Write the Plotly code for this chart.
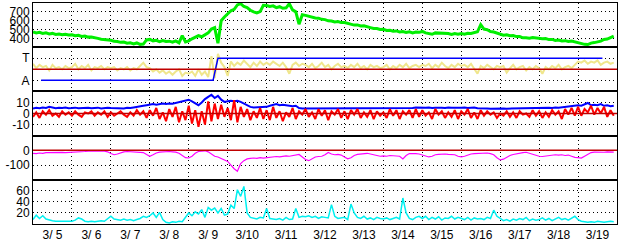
import pandas as pd
import plotly.graph_objects as go
from plotly.subplots import make_subplots

START = "2012-03-05 00:00"
END = "2012-03-20 00:00"

# 2-hourly samples, 12 per day, 3/5 .. 3/19
speed = [
    472, 462, 468, 455, 462, 450, 456, 445, 450, 440, 447, 438,   # 3/5
    440, 430, 434, 422, 426, 414, 416, 404, 400, 390, 388, 378,   # 3/6
    378, 366, 365, 355, 358, 345, 350, 338, 348, 332, 335, 382,   # 3/7
    388, 372, 378, 362, 376, 364, 368, 356, 372, 350, 430, 360,   # 3/8
    372, 395, 408, 430, 418, 442, 462, 505, 522, 345, 600, 642,   # 3/9
    680, 712, 728, 778, 792, 760, 748, 718, 700, 688, 702, 775,   # 3/10
    772, 762, 768, 748, 758, 740, 745, 792, 722, 700, 560, 668,   # 3/11
    660, 648, 642, 630, 628, 615, 612, 598, 596, 585, 590, 578,   # 3/12
    578, 566, 562, 550, 552, 540, 542, 528, 522, 512, 512, 500,   # 3/13
    502, 490, 492, 480, 484, 472, 478, 466, 474, 462, 472, 468,   # 3/14
    478, 462, 458, 446, 462, 460, 460, 450, 454, 444, 454, 446,   # 3/15
    454, 446, 458, 456, 468, 474, 555, 505, 498, 478, 472, 458,   # 3/16
    448, 436, 440, 430, 432, 420, 420, 406, 408, 402, 410, 404,   # 3/17
    406, 396, 398, 386, 388, 376, 380, 370, 374, 364, 370, 360,   # 3/18
    356, 338, 332, 330, 346, 352, 362, 368, 388, 392, 408, 425,   # 3/19
]

# IMF direction (T = +0.5, A = -0.5)
phi = [
    0.25, 0.05, 0.20, 0.10, 0.15, -0.05, 0.20, 0.05, 0.10, 0.00, 0.15, 0.05,
    0.10, 0.25, 0.00, 0.15, 0.05, 0.20, -0.05, 0.10, 0.05, 0.15, 0.00, 0.10,
    0.05, 0.10, -0.05, 0.05, 0.00, 0.10, -0.05, 0.05, 0.00, 0.15, 0.30, 0.10,
    0.05, -0.10, 0.00, -0.15, -0.05, -0.20, -0.10, -0.25, -0.10, 0.00, -0.30, -0.15,
    -0.20, -0.10, -0.30, 0.00, -0.25, -0.10, -0.35, 0.60, -0.40, 0.70, 0.30, 0.10,
    -0.30, 0.35, 0.15, 0.30, 0.20, 0.40, 0.25, 0.10, 0.30, 0.15, 0.35, 0.20,
    0.30, 0.20, 0.35, 0.25, 0.15, 0.30, 0.10, -0.20, 0.20, 0.30, 0.15, 0.25,
    0.20, 0.10, 0.25, 0.05, 0.15, 0.30, 0.10, 0.20, 0.00, 0.15, 0.25, 0.10,
    0.15, 0.05, 0.20, 0.10, 0.25, 0.05, 0.15, 0.00, 0.20, 0.10, 0.15, 0.05,
    0.10, 0.20, 0.00, 0.15, 0.05, 0.20, 0.10, 0.25, 0.05, 0.15, 0.20, 0.10,
    0.20, 0.15, 0.25, 0.05, 0.20, 0.10, 0.30, 0.15, 0.05, 0.20, 0.10, 0.25,
    0.15, 0.20, 0.10, 0.25, 0.00, -0.20, 0.15, 0.05, 0.20, 0.10, 0.00, 0.15,
    0.10, 0.15, -0.15, 0.05, 0.20, 0.00, 0.10, 0.15, -0.05, 0.10, 0.00, 0.15,
    0.05, -0.20, 0.10, 0.00, 0.15, 0.05, 0.20, 0.00, 0.10, 0.15, 0.05, 0.20,
    0.35, 0.30, 0.40, 0.25, 0.35, 0.30, 0.40, 0.20, 0.30, 0.35, 0.25, 0.30,
]

sector_time = ["2012-03-05 05:00", "2012-03-09 15:00", "2012-03-09 18:00", "2012-03-19 15:00"]
sector_val = [-0.5, -0.5, 0.5, 0.5]

bt = [
    4.5, 5.2, 4.8, 5.5, 5.0, 6.0, 5.5, 4.8, 5.2, 5.0, 5.5, 4.8,
    5.0, 5.3, 4.7, 5.0, 5.5, 5.2, 4.8, 5.0, 5.3, 4.6, 5.0, 5.2,
    5.0, 4.8, 5.2, 5.0, 4.6, 5.2, 5.0, 5.5, 5.8, 6.5, 7.0, 7.5,
    8.0, 8.5, 8.0, 8.8, 9.0, 8.5, 9.0, 8.8, 9.5, 10.0, 10.5, 11.5,
    12.5, 11.0, 9.0, 7.5, 10.0, 13.0, 15.0, 17.0, 14.0, 16.0, 12.5, 10.5,
    11.0, 11.5, 11.0, 11.5, 10.5, 9.0, 7.5, 6.0, 5.5, 5.5, 6.0, 5.5,
    6.0, 7.0, 8.0, 8.5, 7.5, 8.0, 7.5, 7.0, 6.5, 7.0, 5.0, 4.5,
    4.5, 4.8, 4.5, 4.6, 4.4, 4.6, 4.5, 4.8, 4.5, 4.6, 4.5, 4.7,
    4.5, 4.6, 4.5, 4.8, 4.6, 4.5, 4.7, 4.5, 4.8, 4.6, 4.5, 4.7,
    4.6, 4.8, 4.5, 4.6, 4.8, 4.5, 4.7, 4.6, 4.8, 5.0, 5.5, 5.2,
    5.5, 5.2, 5.5, 5.0, 5.3, 5.5, 5.2, 5.0, 5.5, 5.2, 5.0, 5.3,
    5.2, 5.5, 5.0, 5.3, 5.5, 4.8, 4.5, 4.6, 4.5, 4.3, 4.5, 4.4,
    4.5, 4.6, 4.4, 4.5, 4.6, 4.5, 4.7, 4.5, 4.6, 4.8, 5.0, 4.8,
    5.0, 5.2, 5.0, 5.3, 5.0, 5.5, 5.2, 5.5, 6.0, 6.5, 7.0, 7.2,
    7.5, 7.0, 8.0, 9.5, 7.5, 8.0, 7.5, 8.5, 7.0, 7.5, 6.5, 7.0,
]

bz = [
    -3, 1, -4, 2, -1, 3, -2, 0, -3, 2, -1, 1,
    -2, 2, -1, -3, 1, 0, 2, -2, 1, -1, 2, -3,
    1, -2, 0, 2, -1, -3, 1, -2, 3, -1, 2, -4,
    3, -2, 5, -5, 1, -7, 4, -3, 6, -8, 2, -6,
    7, -9, 3, -12, 2, -10, 11, -7, 9, -5, 8, -3,
    5, -6, 12, -8, 6, -3, 4, -6, 2, -4, 5, -5,
    3, -6, 6, -4, 2, -7, 1, -3, 5, -5, 2, -1,
    4, -3, 1, -5, 4, -2, 3, -6, 2, -1, 4, -4,
    2, -5, 3, -1, 4, -4, 1, -3, 3, -5, 2, -2,
    1, -4, 4, -2, 3, -5, 2, -1, 3, -4, 4, -3,
    3, -2, 1, -5, 4, -1, 2, -4, 1, -3, 3, -5,
    2, -1, 4, -4, 1, -5, 3, -2, 2, -1, 1, -4,
    0, -2, 2, -3, 1, -4, 2, -1, 0, -3, 3, -2,
    2, -4, 1, -3, 3, -1, 2, -5, 4, -1, 5, -2,
    6, -2, 4, 1, 7, -1, 5, 0, 6, -3, 3, -2,
]

dst = [
    -20, -22, -18, -20, -16, -15, -14, -16, -15, -14, -16, -15,
    -15, -14, -15, -12, -8, -5, -4, -5, -3, -5, -6, -10,
    -22, -30, -25, -15, -10, -8, -9, -7, -9, -10, -15, -28,
    -40, -30, -18, -12, -10, -9, -8, -10, -12, -20, -35, -50,
    -52, -40, -20, -8, -5, -3, -10, -25, -40, -45, -55, -60,
    -75, -100, -125, -142, -90, -70, -58, -55, -52, -55, -50, -53,
    -50, -48, -45, -42, -44, -40, -38, -40, -35, -30, -28, -45,
    -62, -70, -55, -45, -42, -40, -30, -15, -25, -30, -28, -32,
    -45, -58, -50, -35, -28, -25, -22, -20, -25, -30, -35, -40,
    -38, -40, -35, -38, -42, -40, -58, -35, -22, -20, -22, -25,
    -30, -38, -45, -40, -30, -28, -26, -25, -28, -27, -30, -40,
    -45, -40, -30, -25, -22, -20, -18, -20, -18, -22, -30, -50,
    -65, -60, -45, -35, -28, -22, -18, -15, -13, -20, -30, -38,
    -40, -42, -38, -35, -32, -30, -33, -30, -35, -32, -40, -48,
    -50, -53, -40, -25, -15, -12, -14, -12, -13, -11, -13, -12,
]

dens = [
    8, 16, 10, 15, 9, 7, 6, 5, 5, 6, 5, 5,
    5, 7, 11, 9, 5, 4, 5, 4, 5, 6, 5, 10,
    14, 9, 8, 7, 9, 7, 8, 6, 8, 10, 14, 12,
    15, 20, 12, 21, 8, 3, 2, 4, 3, 5, 4, 12,
    20, 15, 22, 18, 26, 12, 30, 25, 29, 20, 28, 16,
    18, 34, 28, 62, 50, 68, 20, 12, 10, 9, 12, 11,
    28, 10, 9, 8, 10, 7, 12, 8, 9, 28, 12, 14,
    13, 15, 12, 14, 10, 13, 12, 11, 35, 14, 10, 11,
    12, 8, 36, 20, 12, 10, 14, 9, 11, 8, 12, 10,
    9, 11, 8, 10, 12, 9, 47, 20, 10, 8, 12, 14,
    10, 14, 8, 12, 9, 13, 7, 11, 10, 14, 9, 12,
    10, 8, 12, 7, 11, 9, 10, 8, 12, 10, 25, 14,
    10, 6, 8, 5, 9, 7, 10, 8, 12, 6, 9, 7,
    8, 11, 7, 10, 6, 9, 12, 8, 10, 7, 11, 14,
    8, 5, 4, 3, 4, 3, 5, 4, 3, 4, 5, 4,
]

t = pd.date_range(START, periods=len(speed), freq="2h")

GREEN = "#00EE00"
YELLOW = "#F0E68C"
BLUE = "#0000FF"
RED = "#FF0000"
MAGENTA = "#FF00FF"
CYAN = "#00F0F0"
ZERO = "#C00000"
DOT = "1px,3px"
FONT = dict(family="Liberation Sans, Arial, sans-serif", size=12, color="black")

fig = make_subplots(rows=5, cols=1, shared_xaxes=True, vertical_spacing=0)

fig.add_trace(go.Scatter(x=t, y=speed, mode="lines", line=dict(color=GREEN, width=3)), row=1, col=1)
fig.add_trace(go.Scatter(x=t, y=phi, mode="lines", line=dict(color=YELLOW, width=2)), row=2, col=1)
fig.add_trace(go.Scatter(x=sector_time, y=sector_val, mode="lines", line=dict(color=BLUE, width=1.5)), row=2, col=1)
fig.add_trace(go.Scatter(x=t, y=bt, mode="lines", line=dict(color=BLUE, width=2)), row=3, col=1)
fig.add_trace(go.Scatter(x=t, y=bz, mode="lines", line=dict(color=RED, width=2)), row=3, col=1)
fig.add_trace(go.Scatter(x=t, y=dst, mode="lines", line=dict(color=MAGENTA, width=1.2)), row=4, col=1)
fig.add_trace(go.Scatter(x=t, y=dens, mode="lines", line=dict(color=CYAN, width=1.5)), row=5, col=1)

y_ranges = [[300, 800], [-1, 1], [-20, 20], [-200, 100], [0, 80]]
y_ticks = [[400, 500, 600, 700], [0.5, -0.5], [10, 0, -10], [0, -100], [20, 40, 60]]
y_text = [["400", "500", "600", "700"], ["T", "A"], ["10", "0", "-10"], ["0", "-100"], ["20", "40", "60"]]

for i in range(5):
    fig.update_yaxes(
        row=i + 1, col=1, range=y_ranges[i], tickmode="array",
        tickvals=y_ticks[i], ticktext=y_text[i], ticks="", showgrid=True,
        gridcolor="black", gridwidth=1, griddash=DOT, zeroline=False,
        showline=True, mirror=True, linecolor="black", linewidth=1,
        tickfont=FONT, fixedrange=True,
    )
    fig.update_xaxes(
        row=i + 1, col=1, type="date", range=[START, END], tick0=START,
        dtick=86400000, ticklabelmode="period", tickformat="%-m/%e",
        ticks="", showgrid=True, gridcolor="black", gridwidth=1, griddash=DOT,
        zeroline=False, showline=True, mirror=True, linecolor="black",
        linewidth=1, tickfont=FONT, showticklabels=(i == 4),
    )

for ax in ["2", "3", "4"]:
    fig.add_shape(type="line", xref=f"x{ax} domain", x0=0, x1=1, yref=f"y{ax}",
                  y0=0, y1=0, line=dict(color=ZERO, width=1.5), layer="above")

fig.update_layout(
    width=628, height=244, showlegend=False,
    margin=dict(l=33, r=11, t=2, b=18),
    paper_bgcolor="white", plot_bgcolor="white",
    font=FONT,
)

fig.write_html("out.html")
